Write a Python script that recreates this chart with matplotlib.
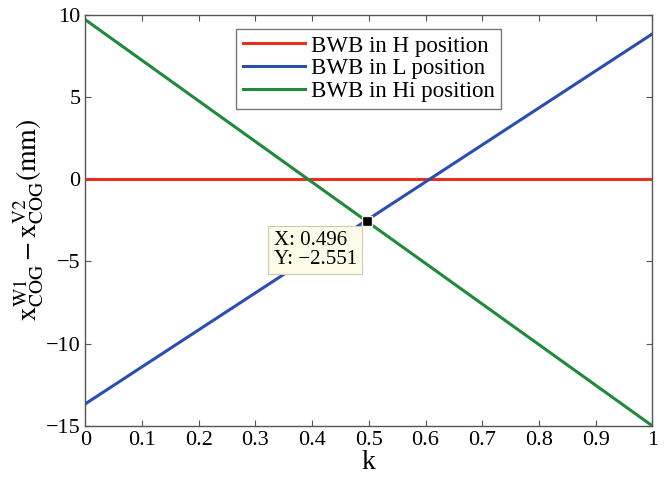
import numpy as np
import matplotlib.pyplot as plt

plt.rcParams['font.family'] = ['Liberation Serif', 'DejaVu Serif']
plt.rcParams['mathtext.fontset'] = 'stix'

# ratio k and the COG offset of each configuration (mm), end points of straight lines
k = [0.0, 1.0]
off_H = [0.0, 0.0]
off_L = [-13.66, 8.84]
off_Hi = [9.70, -15.0]

tip_x = 0.496
tip_y = -2.551

fig = plt.figure(figsize=(6.67, 4.79), dpi=100)
ax = fig.add_axes([0.128, 0.111, 0.85, 0.858])

ax.plot(k, off_H, color='#e8301e', lw=2.2, label='BWB in H position')
ax.plot(k, off_L, color='#2b4fae', lw=2.2, label='BWB in L position')
ax.plot(k, off_Hi, color='#1e8a3a', lw=2.2, label='BWB in Hi position')

# data tip
ax.plot([tip_x], [tip_y], 's', color='black', ms=7, mec='#f5f0d8', mew=1, zorder=5)
ax.annotate('X: %.3f\nY: \u2212%.3f' % (tip_x, abs(tip_y)), xy=(tip_x, tip_y),
            xytext=(-67, -7), textcoords='offset points', fontsize=15,
            linespacing=1.0, va='top', ha='left',
            bbox=dict(boxstyle='square,pad=0.25', fc='#fcfbe8', ec='#cfcab0', lw=0.8))

ax.set_xlim(0, 1)
ax.set_ylim(-15, 10)
ax.set_xticks(np.arange(0, 1.01, 0.1))
ax.set_xticklabels(['0', '0.1', '0.2', '0.3', '0.4', '0.5', '0.6', '0.7', '0.8', '0.9', '1'])
ax.set_yticks([-15, -10, -5, 0, 5, 10])
ax.set_yticklabels(['\u221215', '\u221210', '\u22125', '0', '5', '10'])
ax.tick_params(direction='in', top=True, right=True, labelsize=16, length=4, color='#555555')
for s in ax.spines.values():
    s.set_color('#555555')
    s.set_linewidth(1.0)

ax.set_xlabel('k', fontsize=20, labelpad=0)
ax.set_ylabel(r'$\mathrm{x}_{\mathrm{COG}}^{\mathrm{W1}}-\mathrm{x}_{\mathrm{COG}}^{\mathrm{V2}}\mathrm{(mm)}$',
              fontsize=20, labelpad=0)

leg = ax.legend(loc='upper center', bbox_to_anchor=(0.5, 1.0), fontsize=16.5,
                frameon=True, fancybox=False, handlelength=2.7, handletextpad=0.25,
                labelspacing=0.08, borderpad=0.3, borderaxespad=0.6)
leg.get_frame().set_edgecolor('#555555')
leg.get_frame().set_linewidth(1.0)

fig.savefig('out.png', dpi=100)
